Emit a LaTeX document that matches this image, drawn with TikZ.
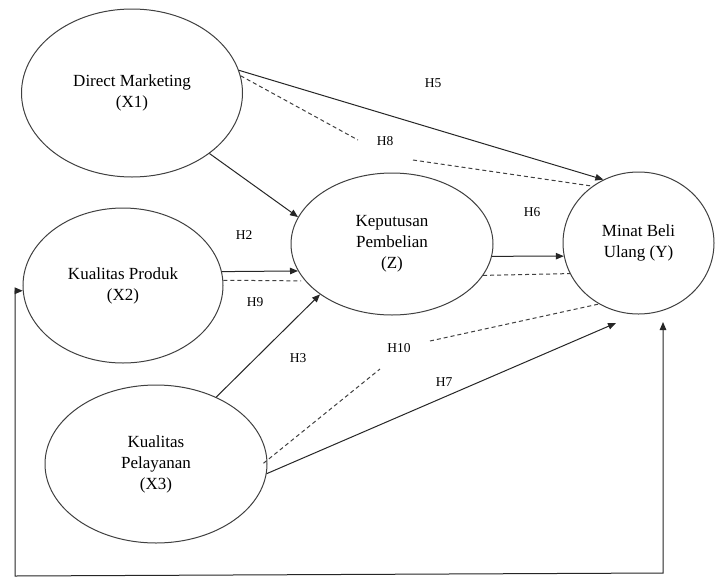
\documentclass[tikz,border=0pt]{standalone}
\usepackage{fontspec}
\setmainfont{Liberation Serif}
\usetikzlibrary{shapes.geometric,arrows.meta}
\begin{document}
\begin{tikzpicture}[x=1pt,y=-1pt,
 var/.style={draw=black!75,line width=1pt,ellipse,inner sep=0pt,align=center,font=\fontsize{17}{21}\selectfont},
 hyp/.style={font=\fontsize{13.5}{16}\selectfont,inner sep=0pt},
 solidarrow/.style={draw=black!85,line width=1pt,-{Triangle[length=8pt,width=6.5pt]}},
 dashline/.style={draw=black!75,line width=1pt,dash pattern=on 4pt off 3pt},
]
\useasboundingbox[fill=white] (0,0) rectangle (715,579);
% variables
\node[var,minimum width=221pt,minimum height=168pt] (x1) at (132,93) {Direct Marketing\\(X1)};
\node[var,minimum width=200pt,minimum height=155pt] (x2) at (123,285.5) {Kualitas Produk\\(X2)};
\node[var,minimum width=222pt,minimum height=158pt] (x3) at (156,464) {Kualitas\\Pelayanan\\(X3)};
\node[var,minimum width=202pt,minimum height=142pt] (z) at (392,244) {Keputusan\\Pembelian\\(Z)};
\node[var,minimum width=151pt,minimum height=142pt] (y) at (638.5,243) {Minat Beli\\Ulang (Y)};
% free ends
\coordinate (h8a) at (358,140);
\coordinate (h8b) at (413,160);
\coordinate (h10a) at (380,369);
\coordinate (h10b) at (430,341);
\coordinate (h7e) at (616,323);
\coordinate (bl) at (15,576);
\coordinate (br) at (663,573);
\coordinate (ye) at (663,322);
% solid arrows
\draw[solidarrow] (x1.12) -- (y.119);
\draw[solidarrow] (x1.-38.5) -- (z.164.7);
\draw[solidarrow] (x2.8) -- (z.196.3);
\draw[solidarrow] (x3.48.5) -- (z.215.6);
\draw[solidarrow] (z.-7) -- (y.190);
\draw[solidarrow] (x3.-5.7) -- (h7e);
% dashed mediation lines
\draw[dashline] (x1.9) -- (h8a);
\draw[dashline] (h8b) -- (y.129);
\draw[dashline,shorten >=4pt] (x2.3) -- (z.203);
\draw[dashline] (z.-19.5) -- (y.204);
\draw[dashline,shorten <=-5pt] (x3.2) -- (h10a);
\draw[dashline] (h10b) -- (y.237.5);
% feedback loop
\draw[draw=black!85,line width=1pt,{Triangle[length=8pt,width=6.5pt]}-{Triangle[length=8pt,width=6.5pt]}]
  (x2.183) -- (x2.183 -| bl) -- (bl) -- (br) -- (ye);
% hypothesis labels
\node[hyp] (h5) at (433,83) {H5};
\node[hyp] (h8) at (385,141) {H8};
\node[hyp] (h2) at (244,235) {H2};
\node[hyp] (h9) at (255,302) {H9};
\node[hyp] (h3) at (298,358) {H3};
\node[hyp] (h10) at (399,348) {H10};
\node[hyp] (h7) at (444,382) {H7};
\node[hyp] (h6) at (532,212) {H6};
\end{tikzpicture}
\end{document}
